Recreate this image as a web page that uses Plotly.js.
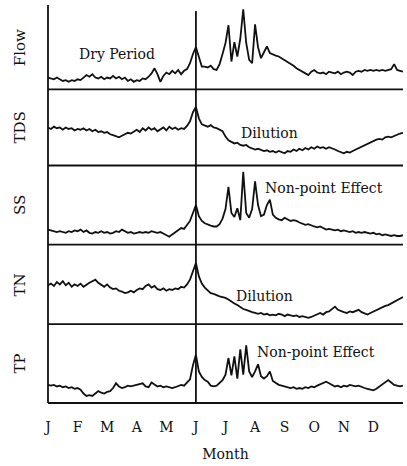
<!DOCTYPE html>
<html>
<head>
<meta charset="utf-8">
<script src="https://cdn.plot.ly/plotly-3.0.1.min.js"></script>
<style>html,body{margin:0;padding:0;background:#fff;}#chart{width:407px;height:466px;}</style>
</head>
<body>
<div id="chart"></div>
<script>
// Sampling: every 0.1 month from start of January (0) to end of December (12)
const monthLabels = ["J","F","M","A","M","J","J","A","S","O","N","D"];
const panelNames = ["Flow","TDS","SS","TN","TP"];

const flow = [
 14,13,12,14,12,10,11,9,11,10,
 12,11,14,17,15,18,14,13,15,12,
 14,13,16,13,15,12,14,10,12,9,
 11,10,13,12,15,19,25,18,9,16,
 20,18,22,19,23,18,22,24,31,42,
 50,37,27,27,26,28,24,23,30,42,
 55,76,33,56,39,60,95,55,35,31,
 77,50,37,44,51,43,41,40,39,37,
 34,33,30,28,25,23,22,19,17,21,
 23,20,19,20,18,21,20,19,21,18,
 20,21,20,17,21,22,21,23,22,23,
 22,23,22,23,22,23,24,30,23,22,21
];
const tds = [
 50,48,51,49,50,47,50,48,49,46,
 48,47,49,46,48,45,47,44,45,43,
 44,41,40,38,37,39,41,43,42,45,
 47,44,49,46,50,47,49,45,48,50,
 46,51,48,50,47,49,48,52,58,70,
 77,62,54,52,51,53,50,49,47,45,
 38,33,31,29,30,27,26,27,24,22,
 21,22,20,19,20,18,19,17,19,18,
 16,19,18,21,19,22,20,23,21,24,
 22,25,23,24,22,24,23,21,19,17,
 16,18,17,19,21,22,24,26,29,31,
 32,34,35,34,37,38,37,39,40,42,43
];
const ss = [
 19,18,17,16,17,16,15,17,16,18,
 17,19,16,18,15,14,16,15,17,15,
 16,14,15,17,16,19,17,15,16,14,
 15,16,15,16,15,17,16,15,16,14,
 12,10,13,16,19,21,20,25,30,40,
 50,36,30,27,25,24,23,23,26,33,
 45,73,40,35,46,31,92,40,34,45,
 80,50,36,38,50,57,38,34,32,31,
 34,32,30,31,30,28,26,25,26,24,
 23,22,23,21,19,20,19,18,19,17,
 18,17,16,17,15,16,15,16,15,14,
 15,13,14,12,13,12,11,12,11,11,12
];
const tn = [
 49,51,48,53,50,54,49,52,47,50,
 48,51,47,50,52,54,56,52,49,47,
 50,46,44,45,42,41,39,40,42,40,
 43,45,44,48,50,46,48,44,43,45,
 42,44,43,45,44,47,46,50,56,68,
 77,60,51,46,42,39,38,36,35,34,
 33,31,28,26,24,21,19,18,16,15,
 14,13,14,12,13,11,12,11,13,12,
 10,12,11,10,11,9,10,9,8,9,
 11,13,14,12,15,16,19,22,18,16,
 15,14,16,15,17,18,15,13,12,14,
 16,18,20,21,23,24,26,28,30,32,34
];
const tp = [
 23,22,23,21,22,20,21,19,20,18,
 19,17,12,9,10,9,12,15,13,12,
 14,15,19,25,21,19,20,22,21,22,
 23,24,25,21,20,26,24,21,22,20,
 21,20,19,20,22,23,22,26,30,48,
 61,40,33,29,27,22,21,22,25,29,
 36,57,35,59,31,68,36,73,40,33,
 40,49,34,31,34,40,28,25,23,22,
 21,20,19,20,18,19,18,20,19,21,
 20,22,24,26,27,25,23,21,22,20,
 22,21,23,22,21,22,20,19,18,17,
 16,18,21,24,27,29,26,23,22,21,22
];

const notes = [
 {text:"Dry Period", x:2.32, panel:0, y:42},
 {text:"Dilution", x:7.48, panel:1, y:43},
 {text:"Non-point Effect", x:9.33, panel:2, y:72},
 {text:"Dilution", x:7.33, panel:3, y:35},
 {text:"Non-point Effect", x:9.05, panel:4, y:64}
];

const series = [flow, tds, ss, tn, tp];
const L = 48, R = 403, T = 5, B = 403.5, W = 407, H = 466;
const bounds = [5, 89.5, 165.7, 245, 324.5, 403.5];
const fy = px => (B - px) / (B - T);
const axNames = ["y","y2","y3","y4","y5"];
const serif = "DejaVu Serif, Liberation Serif, serif";

const traces = series.map((s, i) => ({
  type: "scatter", mode: "lines", y: s, x0: 0, dx: 0.1,
  xaxis: "x", yaxis: axNames[i],
  line: {color: "#111", width: 1.8}, hoverinfo: "skip"
}));

const layout = {
  width: W, height: H,
  margin: {l: L, r: W - R, t: T, b: H - B},
  paper_bgcolor: "#fff", plot_bgcolor: "#fff",
  showlegend: false,
  font: {family: serif, color: "#111", size: 14},
  xaxis: {
    range: [0, 12], anchor: "y5", showgrid: false, zeroline: false, showline: false,
    tickmode: "array", tickvals: monthLabels.map((_, i) => i), ticktext: monthLabels,
    ticks: "", ticklabelstandoff: 14, tickfont: {family: serif, size: 14, color: "#111"},
    title: {text: "Month", font: {family: serif, size: 14, color: "#111"}, standoff: 15}
  },
  shapes: [], annotations: []
};
axNames.forEach((a, i) => {
  const key = a === "y" ? "yaxis" : "yaxis" + a.slice(1);
  layout[key] = {
    domain: [fy(bounds[i + 1]), fy(bounds[i])], anchor: "x",
    range: [0, 100], showgrid: false, zeroline: false, showline: false,
    showticklabels: false, ticks: "", fixedrange: true
  };
  layout.annotations.push({
    text: panelNames[i], xref: "paper", yref: "paper",
    x: (20 - L) / (R - L), y: fy((bounds[i] + bounds[i + 1]) / 2),
    textangle: -90, showarrow: false, xanchor: "center", yanchor: "middle",
    font: {family: serif, size: 15, color: "#111"}
  });
});
bounds.slice(1).forEach(b => {
  layout.shapes.push({type: "line", xref: "paper", yref: "paper",
    x0: 0, x1: 1, y0: fy(b), y1: fy(b), line: {color: "#111", width: 1.8}});
});
layout.shapes.push({type: "line", xref: "paper", yref: "paper",
  x0: 0, x1: 0, y0: 0, y1: 1, line: {color: "#111", width: 1.8}});
layout.shapes.push({type: "line", xref: "x", yref: "paper",
  x0: 5, x1: 5, y0: 0, y1: fy(11), line: {color: "#111", width: 1.8}});

notes.forEach(n => {
  layout.annotations.push({
    text: n.text, x: n.x, y: n.y, xref: "x", yref: axNames[n.panel],
    showarrow: false, xanchor: "center", yanchor: "middle",
    font: {family: serif, size: 14, color: "#111"}
  });
});

Plotly.newPlot("chart", traces, layout, {staticPlot: true, displayModeBar: false});
</script>
</body>
</html>
